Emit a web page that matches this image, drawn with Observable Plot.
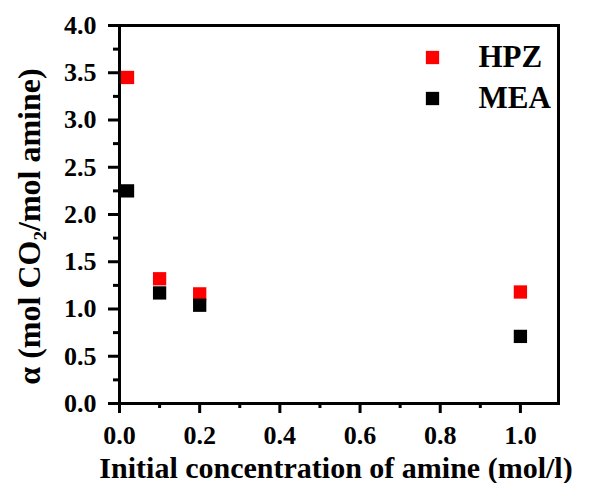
<!DOCTYPE html>
<html>
<head>
<meta charset="utf-8">
<script src="https://cdn.jsdelivr.net/npm/d3@7"></script>
<script src="https://cdn.jsdelivr.net/npm/@observablehq/plot@0.6"></script>
<style>
  html, body { margin: 0; padding: 0; background: #fff; }
  #chart svg { display: block; }
</style>
</head>
<body>
<div id="chart"></div>
<script>
const concentration = [0.02, 0.1, 0.2, 1.0];
const hpzAlpha = [3.45, 1.32, 1.16, 1.18];
const meaAlpha = [2.25, 1.17, 1.04, 0.71];
const seriesNames = ["HPZ", "MEA"];
const seriesColors = ["#ff0000", "#000000"];
const xMajorTicks = [0, 0.2, 0.4, 0.6, 0.8, 1.0];
const xMinorTicks = [0.1, 0.3, 0.5, 0.7, 0.9];
const yMajorTicks = [0, 0.5, 1.0, 1.5, 2.0, 2.5, 3.0, 3.5, 4.0];
const yMinorTicks = [0.25, 0.75, 1.25, 1.75, 2.25, 2.75, 3.25, 3.75];
const xLabel = "Initial concentration of amine (mol/l)";
const yLabel = "α (mol CO₂/mol amine)";

const hpz = concentration.map((c, i) => ({c, a: hpzAlpha[i]}));
const mea = concentration.map((c, i) => ({c, a: meaAlpha[i]}));

const font = "'Liberation Serif', 'Times New Roman', serif";

const chart = Plot.plot({
  width: 591,
  height: 483,
  marginLeft: 119,
  marginRight: 33,
  marginTop: 25,
  marginBottom: 80,
  style: {fontFamily: font, fontWeight: "bold", fontSize: "26px", background: "#fff", color: "#000"},
  x: {domain: [0, 1.095]},
  y: {domain: [0, 4.0]},
  marks: [
    Plot.frame({stroke: "#000", strokeWidth: 3}),
    Plot.axisX({ticks: xMajorTicks, tickFormat: ".1f", tickSize: 10, tickPadding: 12, strokeWidth: 3, label: null}),
    Plot.axisX({ticks: xMinorTicks, tickFormat: () => "", tickSize: 5, strokeWidth: 3, label: null}),
    Plot.axisY({ticks: yMajorTicks, tickFormat: ".1f", tickSize: 11, tickPadding: 12, strokeWidth: 3, label: null}),
    Plot.axisY({ticks: yMinorTicks, tickFormat: () => "", tickSize: 6, strokeWidth: 3, label: null}),
    Plot.dot(hpz, {x: "c", y: "a", symbol: "square", r: 7.5, fill: seriesColors[0], stroke: "none"}),
    Plot.dot(mea, {x: "c", y: "a", symbol: "square", r: 7.5, fill: seriesColors[1], stroke: "none"}),
    Plot.dot([seriesNames[0]], {frameAnchor: "top-right", dx: -126, dy: 32, symbol: "square", r: 7.5, fill: seriesColors[0], stroke: "none"}),
    Plot.dot([seriesNames[1]], {frameAnchor: "top-right", dx: -126, dy: 73, symbol: "square", r: 7.5, fill: seriesColors[1], stroke: "none"}),
    Plot.text([seriesNames[0]], {text: d => d, frameAnchor: "top-right", dx: -80, dy: 32, textAnchor: "start", lineAnchor: "middle", fontSize: 31, fill: "#000"}),
    Plot.text([seriesNames[1]], {text: d => d, frameAnchor: "top-right", dx: -80, dy: 73, textAnchor: "start", lineAnchor: "middle", fontSize: 31, fill: "#000"}),
    Plot.text([xLabel], {text: d => d, frameAnchor: "bottom", dy: 65, dx: -3, textAnchor: "middle", lineAnchor: "middle", fontSize: 30, fill: "#000"}),
    Plot.text([yLabel], {text: d => d, frameAnchor: "left", dx: -90, dy: 12, rotate: -90, textAnchor: "middle", lineAnchor: "middle", fontSize: 32, fill: "#000"})
  ]
});
document.getElementById("chart").appendChild(chart);
</script>
</body>
</html>
